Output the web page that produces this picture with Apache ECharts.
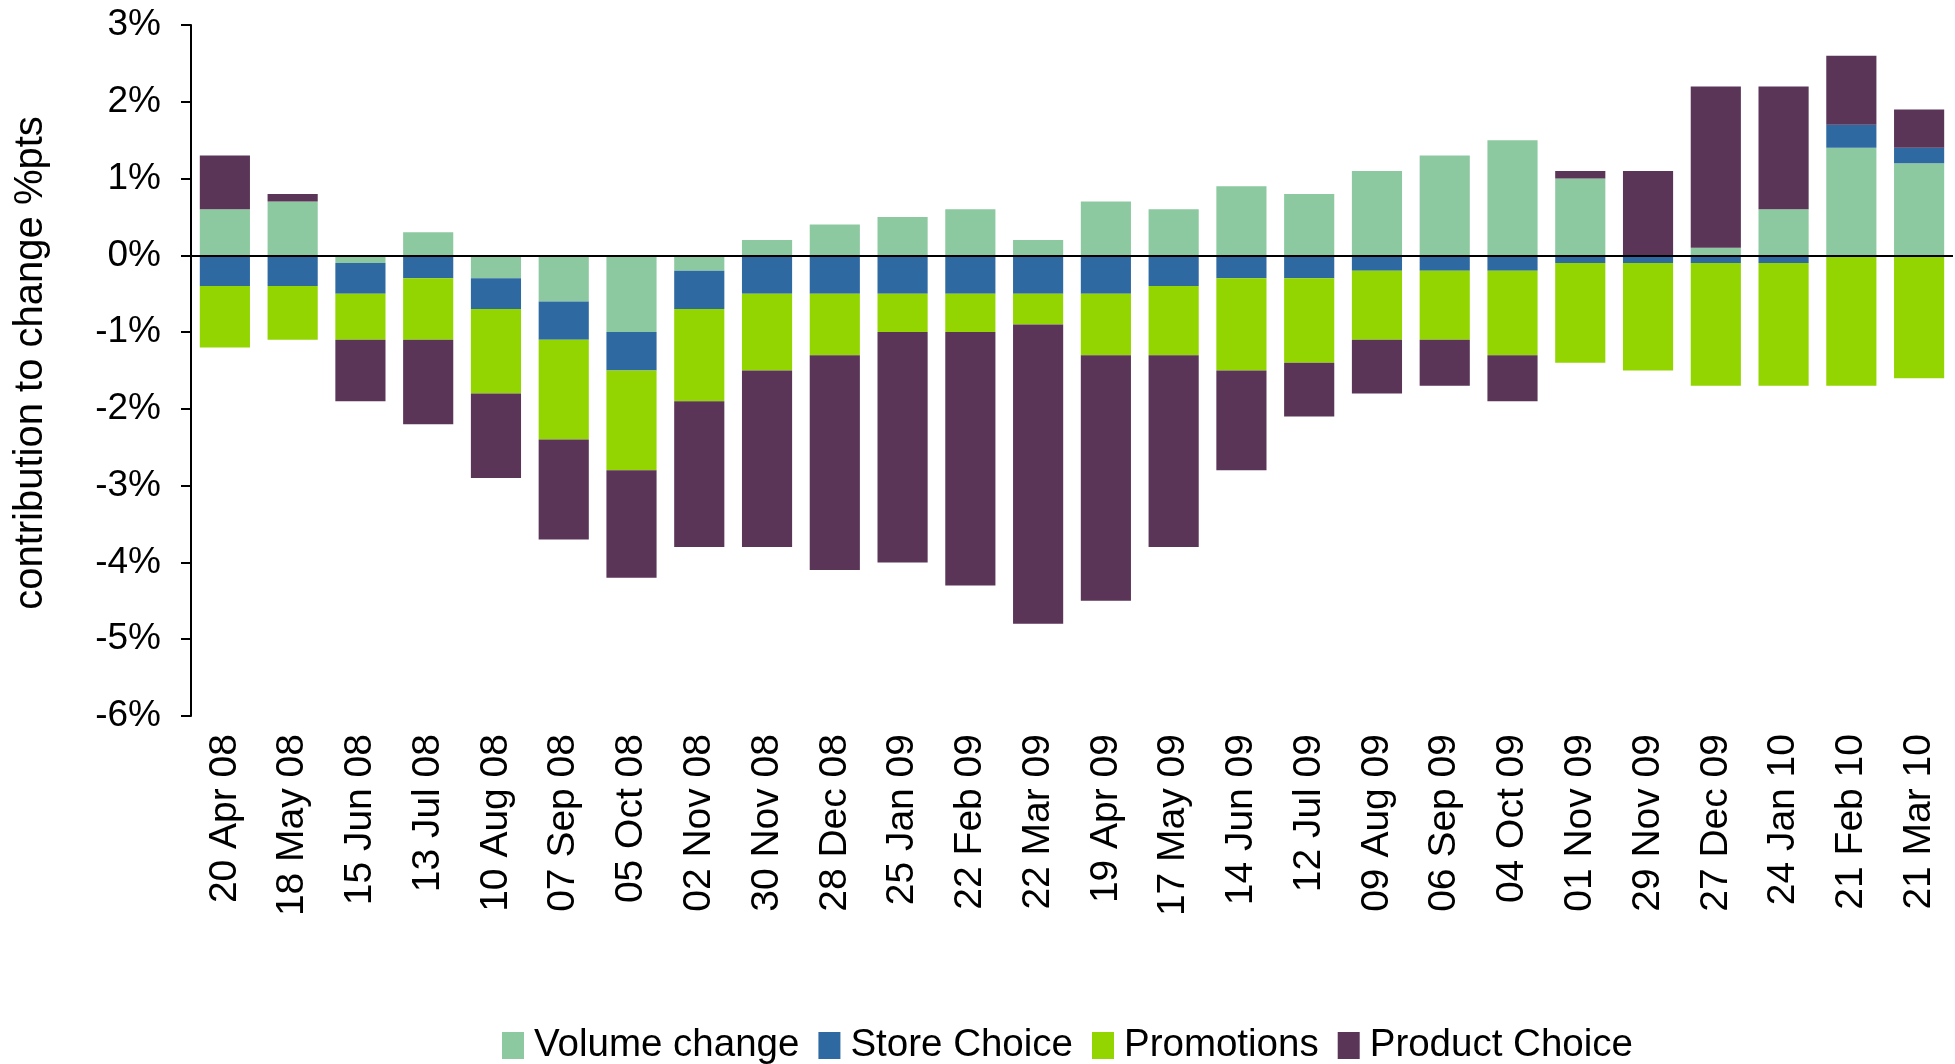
<!doctype html>
<html>
<head>
<meta charset="utf-8">
<title>Contribution to change</title>
<script src="https://cdn.jsdelivr.net/npm/echarts@6/dist/echarts.min.js"></script>
<style>
  html, body { margin: 0; padding: 0; background: #fff; }
  #chartmain { width: 1955px; height: 1064px; }
</style>
</head>
<body>
<div id="chartmain"></div>
<script type="text/javascript">
// periods (4-weekly)
var periods = ['20 Apr 08', '18 May 08', '15 Jun 08', '13 Jul 08', '10 Aug 08', '07 Sep 08', '05 Oct 08',
  '02 Nov 08', '30 Nov 08', '28 Dec 08', '25 Jan 09', '22 Feb 09', '22 Mar 09', '19 Apr 09', '17 May 09',
  '14 Jun 09', '12 Jul 09', '09 Aug 09', '06 Sep 09', '04 Oct 09', '01 Nov 09', '29 Nov 09', '27 Dec 09',
  '24 Jan 10', '21 Feb 10', '21 Mar 10'];

// contributions in %pts
var volumeChange = [0.6, 0.7, -0.1, 0.3, -0.3, -0.6, -1.0, -0.2, 0.2, 0.4, 0.5, 0.6, 0.2, 0.7, 0.6, 0.9, 0.8, 1.1, 1.3, 1.5, 1.0, 0, 0.1, 0.6, 1.4, 1.2];
var storeChoice = [-0.4, -0.4, -0.4, -0.3, -0.4, -0.5, -0.5, -0.5, -0.5, -0.5, -0.5, -0.5, -0.5, -0.5, -0.4, -0.3, -0.3, -0.2, -0.2, -0.2, -0.1, -0.1, -0.1, -0.1, 0.3, 0.2];
var promotions = [-0.8, -0.7, -0.6, -0.8, -1.1, -1.3, -1.3, -1.2, -1.0, -0.8, -0.5, -0.5, -0.4, -0.8, -0.9, -1.2, -1.1, -0.9, -0.9, -1.1, -1.3, -1.4, -1.6, -1.6, -1.7, -1.6];
var productChoice = [0.7, 0.1, -0.8, -1.1, -1.1, -1.3, -1.4, -1.9, -2.3, -2.8, -3.0, -3.3, -3.9, -3.2, -2.5, -1.3, -0.7, -0.7, -0.6, -0.6, 0.1, 1.1, 2.1, 1.6, 0.9, 0.5];

var yTicks = { min: -6, max: 3, step: 1 };

var font = "'Liberation Sans', Arial, sans-serif";

function barSeries(name, data, color) {
  return {
    name: name,
    type: 'bar',
    stack: 'total',
    barCategoryGap: '26%',
    itemStyle: { color: color },
    data: data
  };
}

var series = [
  barSeries('Volume change', volumeChange, '#8dc9a0'),
  barSeries('Store Choice', storeChoice, '#2e6aa1'),
  barSeries('Promotions', promotions, '#93d500'),
  barSeries('Product Choice', productChoice, '#5a3558')
];
// zero line across the plot
series[3].markLine = {
  silent: true,
  symbol: 'none',
  label: { show: false },
  lineStyle: { color: '#000', width: 2, type: 'solid' },
  data: [{ yAxis: 0 }]
};

var option = {
  animation: false,
  textStyle: { fontFamily: font, color: '#000' },
  grid: {
    left: 191,
    right: 2,
    top: 25,
    bottom: 348,
    outerBoundsMode: 'none'
  },
  legend: {
    left: 497,
    top: 1021,
    itemWidth: 22,
    itemHeight: 27,
    itemGap: 19,
    icon: 'rect',
    textStyle: { fontFamily: font, fontSize: 38.5, color: '#000', padding: [0, 0, 0, 5] },
    data: ['Volume change', 'Store Choice', 'Promotions', 'Product Choice']
  },
  xAxis: {
    type: 'category',
    data: periods,
    axisLine: { show: false, onZero: false },
    axisTick: { show: false },
    axisLabel: {
      interval: 0,
      rotate: 90,
      margin: 18,
      fontFamily: font,
      fontSize: 39,
      color: '#000'
    }
  },
  yAxis: {
    type: 'value',
    min: yTicks.min,
    max: yTicks.max,
    interval: yTicks.step,
    name: 'contribution to change %pts',
    nameLocation: 'middle',
    nameRotate: 90,
    nameGap: 140,
    nameTextStyle: { fontFamily: font, fontSize: 40, color: '#000', padding: [0, 0, 0, 15] },
    splitLine: { show: false },
    axisLine: { show: true, lineStyle: { color: '#000', width: 2 } },
    axisTick: { show: true, length: 10, lineStyle: { color: '#000', width: 2 } },
    axisLabel: {
      formatter: '{value}%',
      margin: 30,
      fontFamily: font,
      fontSize: 37,
      color: '#000'
    }
  },
  series: series
};

var myChart = echarts.init(document.getElementById('chartmain'));
myChart.setOption(option);
</script>
</body>
</html>
